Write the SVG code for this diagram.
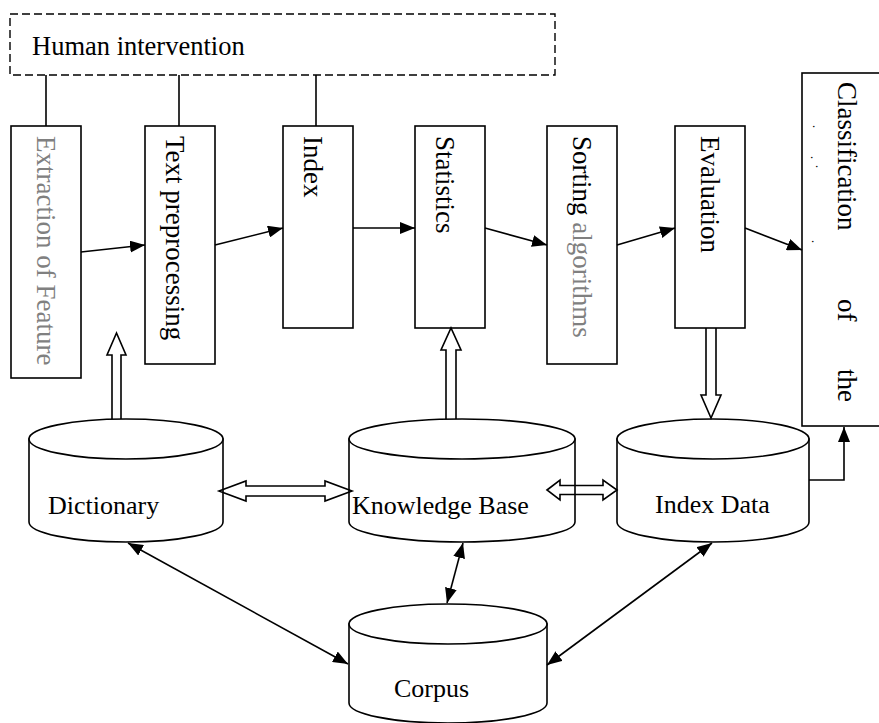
<svg xmlns="http://www.w3.org/2000/svg" width="879" height="723" viewBox="0 0 879 723">
<defs>
<marker id="ah" markerUnits="userSpaceOnUse" markerWidth="16" markerHeight="12" refX="15" refY="6" orient="auto-start-reverse" viewBox="0 0 16 12">
<path d="M0,0 L15,6 L0,12 Z" fill="#000"/>
</marker>
<style>
.box{fill:#fff;stroke:#000;stroke-width:1.6}
.dash{fill:none;stroke:#000;stroke-width:1.4;stroke-dasharray:8,4}
.cyl{fill:#fff;stroke:#000;stroke-width:1.6}
.ln{fill:none;stroke:#000;stroke-width:1.6}
.blk{fill:none;stroke:#000;stroke-width:1.6;stroke-linejoin:miter}
.t{font-family:"Liberation Serif","Times New Roman",serif;font-size:26px;fill:#000}
.v{font-size:27px}
.g{fill:#808080}
.dot{font-family:"Liberation Serif",serif;font-size:12px;fill:#000}
</style>
</defs>

<g id="human-intervention">
<rect class="dash" x="10" y="14" width="545" height="61"/>
<text class="t" x="32" y="55" style="font-size:26.5px">Human intervention</text>
</g>

<g id="extraction">
<rect class="box" x="11" y="126" width="70" height="252"/>
<text class="t v g" transform="translate(37,136) rotate(90)">Extraction of Feature</text>
</g>
<g id="text-preprocessing">
<rect class="box" x="145" y="126" width="70" height="238"/>
<text class="t v" transform="translate(166,136) rotate(90)">Text preprocessing</text>
</g>
<g id="index">
<rect class="box" x="283" y="126" width="70" height="202"/>
<text class="t v" transform="translate(304,136) rotate(90)">Index</text>
</g>
<g id="statistics">
<rect class="box" x="415" y="126" width="70" height="202"/>
<text class="t v" transform="translate(436,136) rotate(90)">Statistics</text>
</g>
<g id="sorting">
<rect class="box" x="547" y="126" width="70" height="238"/>
<text class="t v" transform="translate(573,136) rotate(90)">Sorting <tspan class="g">algorithms</tspan></text>
</g>
<g id="evaluation">
<rect class="box" x="675" y="126" width="70" height="202"/>
<text class="t v" transform="translate(701,136) rotate(90)">Evaluation</text>
</g>
<g id="classification">
<rect class="box" x="802" y="73" width="90" height="353"/>
<text class="t v" transform="translate(838,82) rotate(90)">Classification</text>
<text class="t v" transform="translate(838,299) rotate(90)">of</text>
<text class="t v" transform="translate(838,369) rotate(90)">the</text>
<text class="dot" transform="translate(813,125) rotate(90)">.</text>
<text class="dot" transform="translate(811,156) rotate(90)">.</text>
<text class="dot" transform="translate(816,165) rotate(90)">.</text>
<text class="dot" transform="translate(812,240) rotate(90)">.</text>
</g>

<g id="dictionary">
<path class="cyl" d="M29,439 L29,522 A97,20 0 0 0 223,522 L223,439 Z"/>
<ellipse class="cyl" cx="126" cy="439" rx="97" ry="20"/>
<text class="t" x="48" y="514">Dictionary</text>
</g>
<g id="knowledge-base">
<path class="cyl" d="M349,439 L349,522 A113,20 0 0 0 575,522 L575,439 Z"/>
<ellipse class="cyl" cx="462" cy="439" rx="113" ry="20"/>
<text class="t" x="352" y="514">Knowledge Base</text>
</g>
<g id="index-data">
<path class="cyl" d="M617,439 L617,522 A96,20 0 0 0 809,522 L809,439 Z"/>
<ellipse class="cyl" cx="713" cy="439" rx="96" ry="20"/>
<text class="t" x="655" y="513">Index Data</text>
</g>
<g id="corpus">
<path class="cyl" d="M349,624 L349,703 A99,20 0 0 0 547,703 L547,624 Z"/>
<ellipse class="cyl" cx="448" cy="624" rx="99" ry="20"/>
<text class="t" x="394" y="697">Corpus</text>
</g>

<g id="connectors">
<line class="ln" x1="46" y1="75" x2="46" y2="126"/>
<line class="ln" x1="179" y1="75" x2="179" y2="126"/>
<line class="ln" x1="316" y1="75" x2="316" y2="126"/>

<line class="ln" x1="81" y1="252" x2="145" y2="245" marker-end="url(#ah)"/>
<line class="ln" x1="215" y1="245" x2="283" y2="228" marker-end="url(#ah)"/>
<line class="ln" x1="353" y1="228" x2="415" y2="228" marker-end="url(#ah)"/>
<line class="ln" x1="485" y1="228" x2="547" y2="245" marker-end="url(#ah)"/>
<line class="ln" x1="617" y1="245" x2="675" y2="228" marker-end="url(#ah)"/>
<line class="ln" x1="745" y1="228" x2="802" y2="250" marker-end="url(#ah)"/>

<path class="blk" d="M112,419 L112,355 L107,355 L116.5,333 L126,355 L121,355 L121,419"/>
<path class="blk" d="M446,419 L446,350 L441,350 L451,328 L461,350 L456,350 L456,419"/>
<path class="blk" d="M706,328 L706,395 L701,395 L711,418 L721,395 L716,395 L716,328"/>

<path class="blk" d="M219,491 L246,481 L246,486 L325,486 L325,481 L352,491 L325,501 L325,496 L246,496 L246,501 Z"/>
<path class="blk" d="M547,490 L560,480 L560,485.5 L603,485.5 L603,480 L617,490 L603,500 L603,494.5 L560,494.5 L560,500 Z"/>

<line class="ln" x1="128" y1="543" x2="348" y2="664" marker-start="url(#ah)" marker-end="url(#ah)"/>
<line class="ln" x1="463" y1="543" x2="447" y2="603" marker-start="url(#ah)" marker-end="url(#ah)"/>
<line class="ln" x1="712" y1="543" x2="547" y2="665" marker-start="url(#ah)" marker-end="url(#ah)"/>
<path class="ln" d="M809,480 L844,480 L844,427" marker-end="url(#ah)"/>
</g>
</svg>
